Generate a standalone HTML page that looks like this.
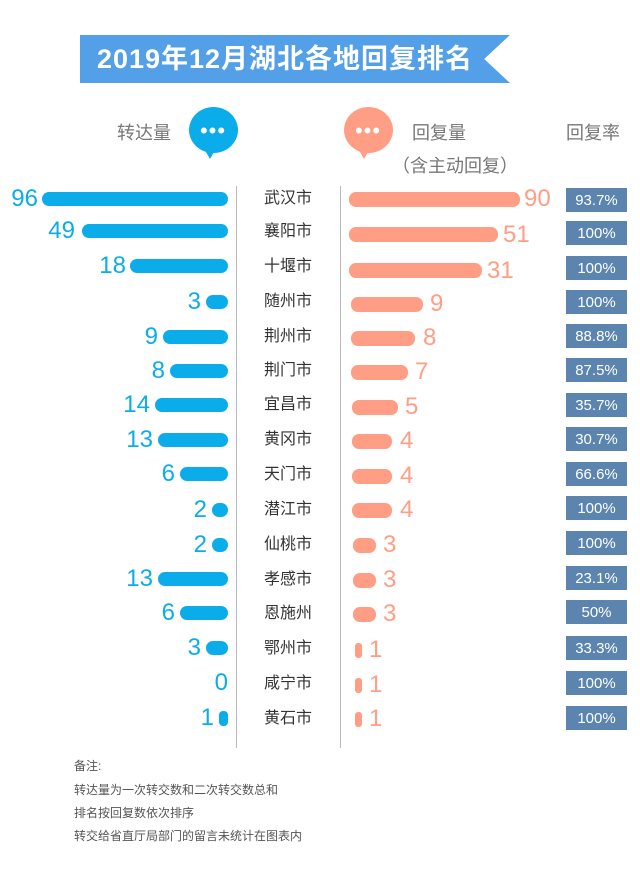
<!DOCTYPE html>
<html><head><meta charset="utf-8"><style>
body{margin:0;width:640px;height:880px;background:#fff;position:relative;overflow:hidden;font-family:"Liberation Sans","Noto Sans CJK SC",sans-serif}
div,span{position:absolute}
.b{background:#0aadea;height:14px;border-radius:7px}
.o{background:#ff9e85;height:15px;border-radius:7px}
.bn{color:#0aadea;font-size:24px;text-align:right;width:60px;line-height:28px}
.on{color:#ff9e85;font-size:24px;line-height:28px}
.c{left:258px;width:60px;text-align:center;font-size:16px;color:#333;line-height:20px}
.r{left:566px;width:61px;height:24px;background:#5b84ae;color:#fff;font-size:15px;text-align:center;line-height:26px}
.h{font-size:18px;color:#777}
.n{left:74px;font-size:12px;color:#555}
.d{width:48px;text-align:center;color:#fff;font-size:22px;letter-spacing:1px}
</style></head><body>
<div style="left:80px;top:35px;width:430px;height:48px;background:#53a0e8;clip-path:polygon(0 0,100% 0,94% 50%,100% 100%,0 100%)"></div>
<div style="left:80px;top:35px;width:410px;line-height:48px;text-align:center;color:#fff;font-size:27px;font-weight:bold;letter-spacing:1px">2019年12月湖北各地回复排名</div>

<span class="h" style="left:117px;top:119px">转达量</span>
<div style="left:189px;top:107px;width:49px;height:46px;border-radius:50%;background:#0aadea"></div>
<div style="left:202px;top:145px;width:0;height:0;border-left:8px solid transparent;border-right:8px solid transparent;border-top:14px solid #0aadea"></div>
<span class="d" style="left:189px;top:118px">•••</span>
<div style="left:344px;top:107px;width:49px;height:46px;border-radius:50%;background:#ff9e85"></div>
<div style="left:356px;top:145px;width:0;height:0;border-left:8px solid transparent;border-right:8px solid transparent;border-top:14px solid #ff9e85"></div>
<span class="d" style="left:344px;top:118px">•••</span>
<span class="h" style="left:412px;top:119px">回复量</span>
<span class="h" style="left:392px;top:152px">（含主动回复）</span>
<span class="h" style="left:566px;top:119px">回复率</span>

<div style="left:236px;top:186px;width:1px;height:562px;background:#bbb"></div>
<div style="left:340px;top:186px;width:1px;height:562px;background:#bbb"></div>

<div class="b" style="left:42px;top:192px;width:186px"></div><span class="bn" style="left:-22px;top:185px">96</span><span class="c" style="top:189px">武汉市</span><div class="o" style="left:349px;top:192px;width:171px"></div><span class="on" style="left:524px;top:185px">90</span><div class="r" style="top:188px">93.7%</div>
<div class="b" style="left:82px;top:224px;width:146px"></div><span class="bn" style="left:15px;top:217px">49</span><span class="c" style="top:222px">襄阳市</span><div class="o" style="left:349px;top:227px;width:149px"></div><span class="on" style="left:503px;top:221px">51</span><div class="r" style="top:221px">100%</div>
<div class="b" style="left:130px;top:259px;width:98px"></div><span class="bn" style="left:66px;top:252px">18</span><span class="c" style="top:257px">十堰市</span><div class="o" style="left:349px;top:263px;width:133px"></div><span class="on" style="left:487px;top:257px">31</span><div class="r" style="top:256px">100%</div>
<div class="b" style="left:206px;top:295px;width:22px"></div><span class="bn" style="left:141px;top:288px">3</span><span class="c" style="top:292px">随州市</span><div class="o" style="left:351px;top:297px;width:72px"></div><span class="on" style="left:430px;top:290px">9</span><div class="r" style="top:290px">100%</div>
<div class="b" style="left:163px;top:330px;width:65px"></div><span class="bn" style="left:98px;top:323px">9</span><span class="c" style="top:327px">荆州市</span><div class="o" style="left:351px;top:331px;width:64px"></div><span class="on" style="left:423px;top:324px">8</span><div class="r" style="top:324px">88.8%</div>
<div class="b" style="left:170px;top:364px;width:58px"></div><span class="bn" style="left:105px;top:357px">8</span><span class="c" style="top:361px">荆门市</span><div class="o" style="left:351px;top:365px;width:57px"></div><span class="on" style="left:415px;top:358px">7</span><div class="r" style="top:358px">87.5%</div>
<div class="b" style="left:155px;top:398px;width:73px"></div><span class="bn" style="left:90px;top:391px">14</span><span class="c" style="top:395px">宜昌市</span><div class="o" style="left:352px;top:400px;width:46px"></div><span class="on" style="left:405px;top:393px">5</span><div class="r" style="top:393px">35.7%</div>
<div class="b" style="left:158px;top:433px;width:70px"></div><span class="bn" style="left:93px;top:426px">13</span><span class="c" style="top:430px">黄冈市</span><div class="o" style="left:352px;top:434px;width:40px"></div><span class="on" style="left:400px;top:427px">4</span><div class="r" style="top:427px">30.7%</div>
<div class="b" style="left:180px;top:467px;width:48px"></div><span class="bn" style="left:115px;top:460px">6</span><span class="c" style="top:465px">天门市</span><div class="o" style="left:352px;top:469px;width:40px"></div><span class="on" style="left:400px;top:462px">4</span><div class="r" style="top:462px">66.6%</div>
<div class="b" style="left:212px;top:503px;width:16px"></div><span class="bn" style="left:147px;top:496px">2</span><span class="c" style="top:500px">潜江市</span><div class="o" style="left:352px;top:503px;width:40px"></div><span class="on" style="left:400px;top:496px">4</span><div class="r" style="top:496px">100%</div>
<div class="b" style="left:212px;top:538px;width:16px"></div><span class="bn" style="left:147px;top:531px">2</span><span class="c" style="top:535px">仙桃市</span><div class="o" style="left:353px;top:538px;width:23px"></div><span class="on" style="left:383px;top:531px">3</span><div class="r" style="top:531px">100%</div>
<div class="b" style="left:158px;top:572px;width:70px"></div><span class="bn" style="left:93px;top:565px">13</span><span class="c" style="top:570px">孝感市</span><div class="o" style="left:353px;top:573px;width:23px"></div><span class="on" style="left:383px;top:566px">3</span><div class="r" style="top:566px">23.1%</div>
<div class="b" style="left:180px;top:606px;width:48px"></div><span class="bn" style="left:115px;top:599px">6</span><span class="c" style="top:604px">恩施州</span><div class="o" style="left:353px;top:607px;width:23px"></div><span class="on" style="left:383px;top:600px">3</span><div class="r" style="top:600px">50%</div>
<div class="b" style="left:206px;top:641px;width:22px"></div><span class="bn" style="left:141px;top:634px">3</span><span class="c" style="top:639px">鄂州市</span><div class="o" style="left:355px;top:643px;width:7px;border-radius:3px"></div><span class="on" style="left:369px;top:636px">1</span><div class="r" style="top:636px">33.3%</div>
<span class="bn" style="left:168px;top:669px">0</span><span class="c" style="top:674px">咸宁市</span><div class="o" style="left:355px;top:678px;width:7px;border-radius:3px"></div><span class="on" style="left:369px;top:671px">1</span><div class="r" style="top:671px">100%</div>
<div class="b" style="left:219px;top:711px;width:9px;height:15px;border-radius:4px"></div><span class="bn" style="left:154px;top:704px">1</span><span class="c" style="top:709px">黄石市</span><div class="o" style="left:355px;top:712px;width:7px;border-radius:3px"></div><span class="on" style="left:369px;top:705px">1</span><div class="r" style="top:706px">100%</div>

<span class="n" style="top:757px">备注:</span>
<span class="n" style="top:781px">转达量为一次转交数和二次转交数总和</span>
<span class="n" style="top:804px">排名按回复数依次排序</span>
<span class="n" style="top:827px">转交给省直厅局部门的留言未统计在图表内</span>
</body></html>
